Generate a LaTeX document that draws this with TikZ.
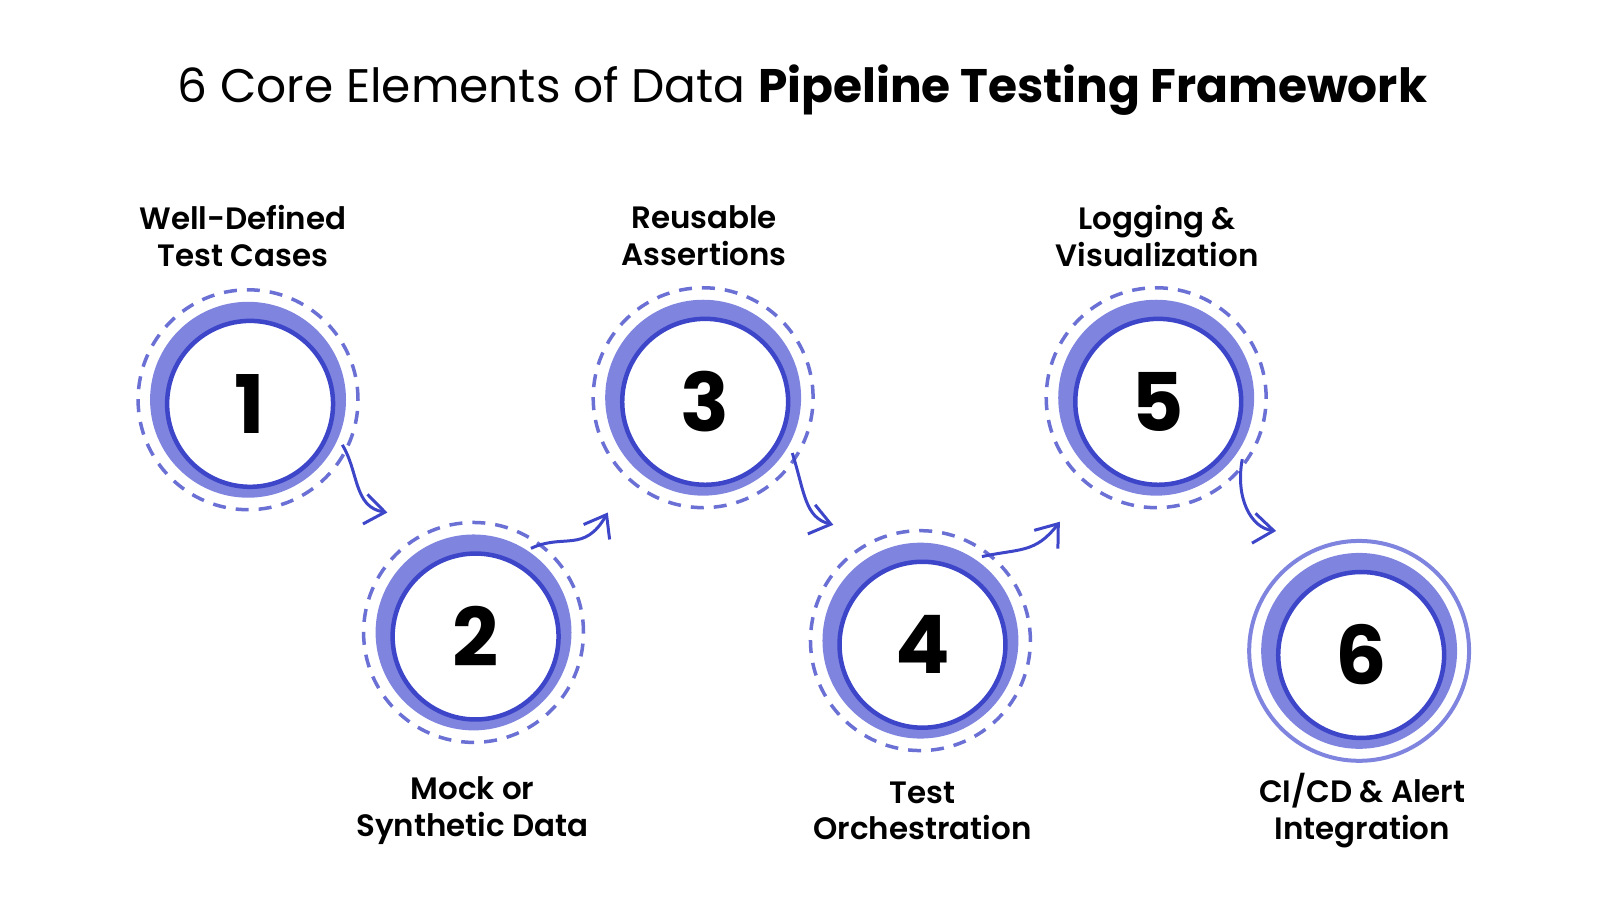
\documentclass[tikz,border=0pt]{standalone}
\usepackage{fontspec}
\setmainfont{Poppins}
\newfontfamily\semib{Poppins SemiBold}
\usetikzlibrary{arrows.meta}
\definecolor{ring}{HTML}{7F84DE}
\definecolor{deep}{HTML}{3D45C9}
\definecolor{dash}{HTML}{6A70D4}
\tikzset{
 dashc/.style={circle,draw=dash,dashed,dash pattern=on 1.3mm off 1mm,line width=0.35mm,minimum size=2.2cm},
 solidc/.style={circle,draw=ring,line width=0.4mm,minimum size=2.2cm},
 num/.style={font=\fontsize{23}{23}\selectfont\bfseries},
 lab/.style={font=\fontsize{8.8}{10.4}\selectfont\semib,align=center},
 arr/.style={draw=deep,line width=0.3mm,-{Straight Barb[length=2mm,width=3mm]}},
}
\begin{document}
\begin{tikzpicture}[x=0.01025cm,y=-0.01025cm]
\useasboundingbox (0,0) rectangle (1561,878);
\node at (783,88) {\fontsize{13.4}{15}\selectfont 6 Core Elements of Data \textbf{Pipeline Testing Framework}};
\foreach \n/\x/\y/\s in {1/242/390/dashc,2/462/617/dashc,3/686/388/dashc,4/898/625/dashc,5/1128/388/dashc,6/1326/635/solidc}{
  \node[\s] (d\n) at (\x,\y) {};
  \node[circle,fill=ring,minimum size=1.96cm,inner sep=0pt] (r\n) at (\x,\y) {};
  \node[circle,fill=white,draw=deep,line width=0.45mm,minimum size=1.66cm,inner sep=0pt,num] (c\n) at (\x+2,\y+4) {\n};
}
\node[lab] (l1) at (237,230) {Well-Defined\\Test Cases};
\node[lab] (l3) at (687,230) {Reusable\\Assertions};
\node[lab] (l5) at (1129,230) {Logging \&\\Visualization};
\node[lab] (l2) at (461,791) {Mock or\\Synthetic Data};
\node[lab] (l4) at (900,791) {Test\\Orchestration};
\node[lab] (l6) at (1329,791) {CI/CD \& Alert\\Integration};
\coordinate (a1s) at (334,434); \coordinate (a1e) at (378,500);
\coordinate (a2s) at (518,535); \coordinate (a2e) at (593,500);
\coordinate (a3s) at (773,442); \coordinate (a3e) at (813,512);
\coordinate (a4s) at (958,543); \coordinate (a4e) at (1034,509);
\coordinate (a5s) at (1212,448); \coordinate (a5e) at (1245,518);
\draw[arr] (a1s) .. controls (350,460) and (345,495) .. (a1e);
\draw[arr] (a2s) .. controls (550,520) and (570,540) .. (a2e);
\draw[arr] (a3s) .. controls (785,480) and (785,505) .. (a3e);
\draw[arr] (a4s) .. controls (995,535) and (1010,540) .. (a4e);
\draw[arr] (a5s) .. controls (1205,485) and (1220,515) .. (a5e);
\end{tikzpicture}
\end{document}
